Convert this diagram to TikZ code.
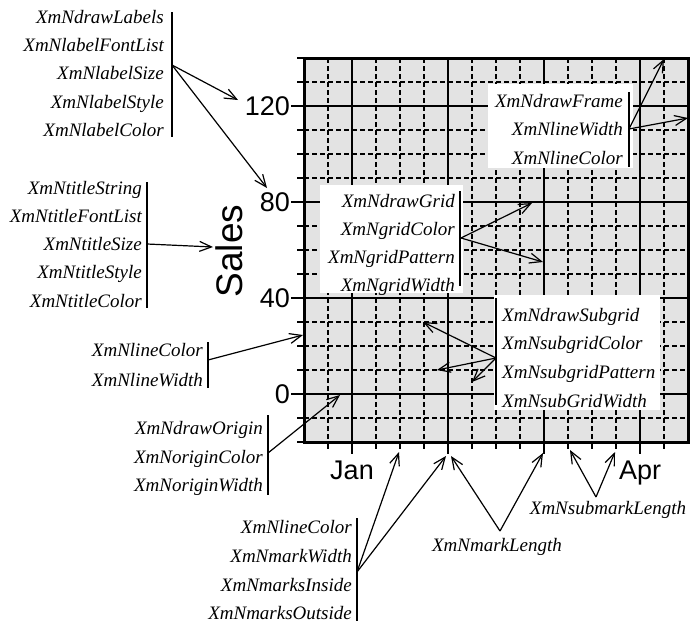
\documentclass[tikz,border=0pt]{standalone}
\usepackage{fontspec}
\setmainfont{Liberation Serif}
\newfontfamily\axisfont{Liberation Sans}
\usetikzlibrary{arrows.meta}
\tikzset{
  lab/.style={font=\fontsize{19}{22}\selectfont\itshape, inner sep=0pt},
  axl/.style={font=\axisfont\fontsize{27}{30}\selectfont, inner sep=0pt},
  bar/.style={line width=1.5pt},
  arr/.style={line width=1.2pt, -{Straight Barb[length=12pt,width=10pt,line width=1.2pt]}},
  subg/.style={line width=1.2pt, dash pattern=on 4.5pt off 3.5pt},
  majg/.style={line width=1.6pt},
  wbox/.style={fill=white, draw=none},
  tickm/.style={line width=2pt},
}
\begin{document}
\begin{tikzpicture}[x=1pt,y=-1pt]
\useasboundingbox (0,0) rectangle (690,622);
% plot background
\fill[black!11] (304,58) rectangle (688,442);
% subgrid
\foreach \x in {328,376,400,424,472,496,520,568,592,616,664}
  \draw[subg] (\x,58) -- (\x,442);
\foreach \y in {82,130,154,178,226,250,274,322,346,370,418}
  \draw[subg] (304,\y) -- (688,\y);
% major grid
\foreach \x in {352,448,544,640}
  \draw[majg] (\x,58) -- (\x,442);
\foreach \y in {106,202,298}
  \draw[majg] (304,\y) -- (688,\y);
% origin
\draw[line width=2.6pt] (304,394) -- (688,394);
% white label boxes inside the plot
\fill[wbox] (488,84) rectangle (633,168);
\fill[wbox] (320,185) rectangle (463,293);
\fill[wbox] (494,295) rectangle (660,410);
% frame
\draw[line width=3pt] (304,58) rectangle (688,442);
% left ticks
\foreach \y in {106,202,298,394}
  \draw[tickm] (291,\y) -- (304,\y);
\foreach \y in {58,82,130,154,178,226,250,274,322,346,370,418,442}
  \draw[tickm] (297,\y) -- (304,\y);
% bottom ticks
\foreach \x in {352,448,544,640}
  \draw[tickm] (\x,442) -- (\x,454);
\foreach \x in {328,376,400,424,472,496,520,568,592,616,664}
  \draw[tickm] (\x,442) -- (\x,449);
% axis labels
\node[axl, anchor=base east] (n120) at (290,115.5) {120};
\node[axl, anchor=base east] (n80) at (290,211.5) {80};
\node[axl, anchor=base east] (n40) at (290,307.5) {40};
\node[axl, anchor=base east] (n0) at (290,403.5) {0};
\node[axl, anchor=base] (njan) at (352,479.5) {Jan};
\node[axl, anchor=base] (napr) at (640,479.5) {Apr};
\node[font=\axisfont\fontsize{37}{40}\selectfont, inner sep=0pt, rotate=90] (sales) at (229,251) {Sales};

% box 1: labels
\node[lab, anchor=base east] (b1a) at (164,23) {XmNdrawLabels};
\node[lab, anchor=base east] (b1b) at (164,51) {XmNlabelFontList};
\node[lab, anchor=base east] (b1c) at (164,79) {XmNlabelSize};
\node[lab, anchor=base east] (b1d) at (164,108) {XmNlabelStyle};
\node[lab, anchor=base east] (b1e) at (164,136) {XmNlabelColor};
\draw[bar] (172,12) -- (172,137);
% box 2: title
\node[lab, anchor=base east] (b2a) at (142,194) {XmNtitleString};
\node[lab, anchor=base east] (b2b) at (142,222) {XmNtitleFontList};
\node[lab, anchor=base east] (b2c) at (142,250) {XmNtitleSize};
\node[lab, anchor=base east] (b2d) at (142,278) {XmNtitleStyle};
\node[lab, anchor=base east] (b2e) at (142,307) {XmNtitleColor};
\draw[bar] (147,182) -- (147,308);
% box 3: line
\node[lab, anchor=base east] (b3a) at (203,356) {XmNlineColor};
\node[lab, anchor=base east] (b3b) at (203,386) {XmNlineWidth};
\draw[bar] (208,342) -- (208,388);
% box 4: origin
\node[lab, anchor=base east] (b4a) at (263,434) {XmNdrawOrigin};
\node[lab, anchor=base east] (b4b) at (263,463) {XmNoriginColor};
\node[lab, anchor=base east] (b4c) at (263,491) {XmNoriginWidth};
\draw[bar] (268,415) -- (268,495);
% box 5: marks
\node[lab, anchor=base east] (b5a) at (352,533) {XmNlineColor};
\node[lab, anchor=base east] (b5b) at (352,562) {XmNmarkWidth};
\node[lab, anchor=base east] (b5c) at (352,591) {XmNmarksInside};
\node[lab, anchor=base east] (b5d) at (352,619) {XmNmarksOutside};
\draw[bar] (357,518) -- (357,621);
% box 6: frame
\node[lab, anchor=base east] (b6a) at (623,107) {XmNdrawFrame};
\node[lab, anchor=base east] (b6b) at (623,135) {XmNlineWidth};
\node[lab, anchor=base east] (b6c) at (623,164) {XmNlineColor};
\draw[bar] (629,92) -- (629,167);
% box 7: grid
\node[lab, anchor=base east] (b7a) at (455,207) {XmNdrawGrid};
\node[lab, anchor=base east] (b7b) at (455,235) {XmNgridColor};
\node[lab, anchor=base east] (b7c) at (455,263) {XmNgridPattern};
\node[lab, anchor=base east] (b7d) at (455,291) {XmNgridWidth};
\draw[bar] (460,191) -- (460,286);
% box 8: subgrid
\node[lab, anchor=base west] (b8a) at (502,321) {XmNdrawSubgrid};
\node[lab, anchor=base west] (b8b) at (502,349) {XmNsubgridColor};
\node[lab, anchor=base west] (b8c) at (502,378) {XmNsubgridPattern};
\node[lab, anchor=base west] (b8d) at (502,407) {XmNsubGridWidth};
\draw[bar] (496,298) -- (496,405);
% mark length labels
\node[lab, anchor=base] (ml) at (497,551) {XmNmarkLength};
\node[lab, anchor=base] (sml) at (608,514) {XmNsubmarkLength};

% connector coordinates
\coordinate (s1) at (172,65);
\coordinate (s2) at (147,244);
\coordinate (s3) at (208,360);
\coordinate (s4) at (268,453);
\coordinate (s5) at (357,572);
\coordinate (s6) at (500,531);
\coordinate (s7) at (596,497);
\coordinate (s8) at (629,129);
\coordinate (s9) at (461,238);
\coordinate (s10) at (496,358);
\coordinate (t1) at (238,100);
\coordinate (t2) at (267,188);
\coordinate (t3) at (213,247);
\coordinate (t4) at (303,335);
\coordinate (t5) at (340,395);
\coordinate (t6) at (399,452);
\coordinate (t7) at (446,456);
\coordinate (t8) at (451,456);
\coordinate (t9) at (543,453);
\coordinate (t10) at (570,450);
\coordinate (t11) at (615,452);
\coordinate (t12) at (664,59);
\coordinate (t13) at (688,118);
\coordinate (t14) at (532,203);
\coordinate (t15) at (543,262);
\coordinate (t16) at (423,322);
\coordinate (t17) at (437,370);
\coordinate (t18) at (472,382);

\draw[arr] (s1) -- (t1);
\draw[arr] (s1) -- (t2);
\draw[arr] (s2) -- (t3);
\draw[arr] (s3) -- (t4);
\draw[arr] (s4) -- (t5);
\draw[arr] (s5) -- (t6);
\draw[arr] (s5) -- (t7);
\draw[arr] (s6) -- (t8);
\draw[arr] (s6) -- (t9);
\draw[arr] (s7) -- (t10);
\draw[arr] (s7) -- (t11);
\draw[arr] (s8) -- (t12);
\draw[arr] (s8) -- (t13);
\draw[arr] (s9) -- (t14);
\draw[arr] (s9) -- (t15);
\draw[arr] (s10) -- (t16);
\draw[arr] (s10) -- (t17);
\draw[arr] (s10) -- (t18);
\end{tikzpicture}
\end{document}
